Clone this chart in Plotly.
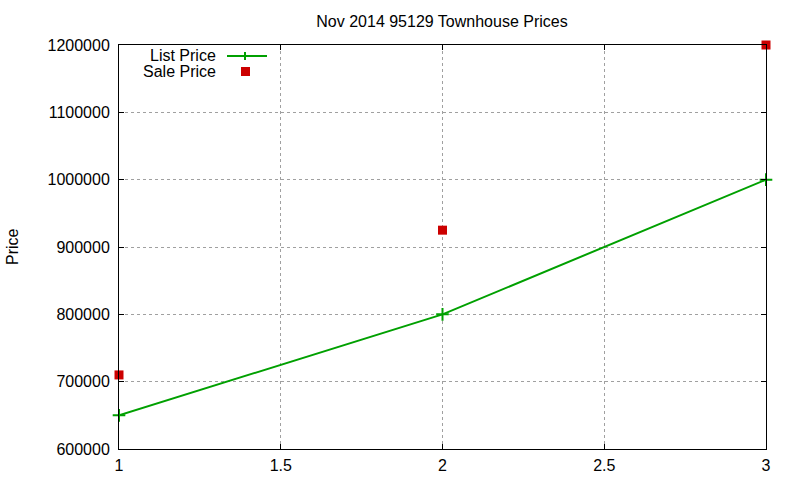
import plotly.graph_objects as go

x_vals = [1, 2, 3]
list_price = [650000, 800000, 1000000]
sale_price = [710000, 925000, 1200000]
title = "Nov 2014 95129 Townhouse Prices"
y_label = "Price"

GREEN = "#00a000"
RED = "#cc0000"
FONT = "Liberation Sans, Arial, sans-serif"

L, R, T, B = 119, 34, 45, 31
W, H = 800, 480
pw, ph = W - L - R, H - T - B

def px(x):
    return (x - L) / pw

def py(y):
    return (H - B - y) / ph

fig = go.Figure()
fig.add_trace(go.Scatter(
    x=x_vals, y=list_price, mode="lines+markers", name="List Price",
    line=dict(color=GREEN, width=2),
    marker=dict(symbol="cross-thin", size=9, line=dict(color=GREEN, width=2)),
    cliponaxis=False, showlegend=False))
fig.add_trace(go.Scatter(
    x=x_vals, y=sale_price, mode="markers", name="Sale Price",
    marker=dict(symbol="square", size=9, color=RED),
    cliponaxis=False, showlegend=False))

# custom gnuplot-like legend
for txt, yy in (("List Price", 55.5), ("Sale Price", 71.5)):
    fig.add_annotation(text=txt, xref="paper", yref="paper", x=px(218), y=py(yy),
                       xanchor="right", yanchor="middle", showarrow=False,
                       height=13, valign="middle",
                       font=dict(size=16, color="black", family=FONT))
fig.add_shape(type="line", xref="paper", yref="paper", x0=px(227), x1=px(267),
              y0=py(56), y1=py(56), line=dict(color=GREEN, width=2))
fig.add_shape(type="line", xref="paper", yref="paper", x0=px(245), x1=px(245),
              y0=py(52), y1=py(60), line=dict(color=GREEN, width=2))
fig.add_shape(type="rect", xref="paper", yref="paper", x0=px(241), x1=px(250),
              y0=py(67), y1=py(76), line=dict(width=0), fillcolor=RED)

fig.add_annotation(text=y_label, xref="paper", yref="paper", x=px(12), y=py(247),
                   textangle=-90, xanchor="center", yanchor="middle", showarrow=False,
                   font=dict(size=16, color="black", family=FONT))

axis_common = dict(showline=True, linecolor="black", linewidth=1, mirror="ticks",
                   ticks="inside", ticklen=5, tickcolor="black",
                   showgrid=True, gridcolor="#a0a0a0", griddash="dot", gridwidth=1,
                   zeroline=False, automargin=False)

fig.update_layout(
    width=W, height=H,
    margin=dict(l=L, r=R, t=T, b=B),
    paper_bgcolor="white", plot_bgcolor="white",
    font=dict(family=FONT, size=16, color="black"),
    title=dict(text=title, x=px(442), xref="paper", y=(H - 21) / H, yref="container",
               xanchor="center", yanchor="middle", font=dict(size=16)),
    xaxis=dict(range=[1, 3], tickvals=[1, 1.5, 2, 2.5, 3], ticktext=["1", "1.5", "2", "2.5", "3"],
               ticklabelstandoff=2, **axis_common),
    yaxis=dict(range=[600000, 1200000], dtick=100000, tickformat="d",
               ticklabelstandoff=5, **axis_common),
)

fig.write_html("out.html")
